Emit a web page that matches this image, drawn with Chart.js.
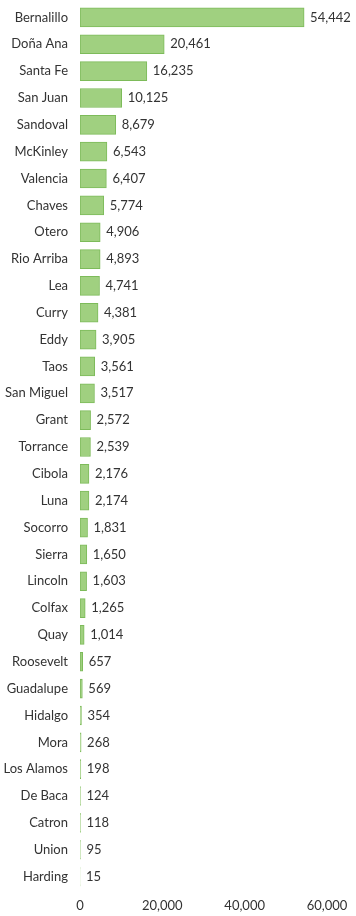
<!DOCTYPE html>
<html><head><meta charset="utf-8">
<script src="https://cdn.jsdelivr.net/npm/chart.js@4"></script>
<style>html,body{margin:0;padding:0;background:#fff}canvas{display:block}</style>
</head><body>
<canvas id="c" width="356" height="916"></canvas>
<script>
const counties = ["Bernalillo","Doña Ana","Santa Fe","San Juan","Sandoval","McKinley","Valencia","Chaves","Otero","Rio Arriba","Lea","Curry","Eddy","Taos","San Miguel","Grant","Torrance","Cibola","Luna","Socorro","Sierra","Lincoln","Colfax","Quay","Roosevelt","Guadalupe","Hidalgo","Mora","Los Alamos","De Baca","Catron","Union","Harding"];
const values = [54442,20461,16235,10125,8679,6543,6407,5774,4906,4893,4741,4381,3905,3561,3517,2572,2539,2176,2174,1831,1650,1603,1265,1014,657,569,354,268,198,124,118,95,15];
const xTicks = [0,20000,40000,60000];

const FONT = "Lato, 'Open Sans', sans-serif";
const valueLabels = {
  id:'valueLabels',
  afterDatasetsDraw(chart){
    const ctx = chart.ctx;
    const meta = chart.getDatasetMeta(0);
    ctx.save();
    ctx.font = "13px " + FONT;
    ctx.fillStyle = "#333333";
    ctx.textAlign = "left";
    ctx.textBaseline = "middle";
    meta.data.forEach((bar,i)=>{
      ctx.fillText(values[i].toLocaleString('en-US'), bar.x + 6, bar.y);
    });
    ctx.restore();
  }
};

function barFill(context){
  const el = context.element;
  const ctx = context.chart.ctx;
  if(!el || el.y === undefined) return '#a0d080';
  const h = el.height || 19;
  const g = ctx.createLinearGradient(0, el.y - h/2, 0, el.y + h/2);
  g.addColorStop(0,'#8fca6c');
  g.addColorStop(0.5,'#b2dc98');
  g.addColorStop(1,'#8fca6c');
  return g;
}

new Chart(document.getElementById('c'),{
  type:'bar',
  data:{labels:counties,datasets:[{data:values,backgroundColor:barFill,borderColor:'#7dbb5a',borderWidth:1,barThickness:19,borderSkipped:false}]},
  options:{
    indexAxis:'y',responsive:false,animation:false,
    layout:{padding:{top:4,right:29,bottom:0,left:0}},
    plugins:{legend:{display:false},tooltip:{enabled:false}},
    scales:{
      x:{min:0,max:60000,afterBuildTicks(s){s.ticks=xTicks.map(v=>({value:v}));},
        grid:{display:false,drawTicks:false},border:{display:false},
        afterFit(s){s.height=26;s.paddingTop=0;s.paddingBottom=0;},
        ticks:{padding:8,color:'#333333',font:{family:FONT,size:13},callback:v=>v.toLocaleString('en-US')}},
      y:{grid:{display:false,drawTicks:false},border:{display:false},
        afterFit(s){s.width=80;s.paddingTop=0;s.paddingBottom=0;},
        ticks:{padding:12,color:'#333333',font:{family:FONT,size:13},autoSkip:false}}
    }
  },
  plugins:[valueLabels]
});
</script>
</body></html>
